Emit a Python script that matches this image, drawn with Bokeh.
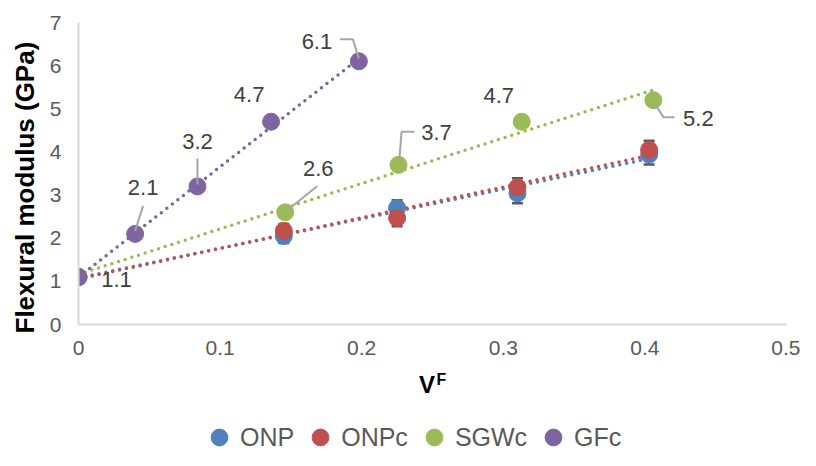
import numpy as np
from bokeh.plotting import figure
from bokeh.layouts import column
from bokeh.models import (Range1d, ColumnDataSource, Whisker, TeeHead, Label, Legend, LegendItem,
                          FixedTicker, NumeralTickFormatter, Title)
from bokeh.embed import file_html
from bokeh.resources import INLINE
from bokeh.core.properties import value

# ---------------- data ----------------
series_names = ["ONP", "ONPc", "SGWc", "GFc"]
colors = ["#4F81BD", "#C0504D", "#9BBB59", "#8064A2"]

onp_x = [0.0, 0.145, 0.225, 0.31, 0.403]
onp_y = [1.1, 2.05, 2.70, 3.04, 3.94]
onp_err = [0.0, 0.16, 0.18, 0.23, 0.23]

onpc_x = [0.0, 0.145, 0.225, 0.31, 0.403]
onpc_y = [1.1, 2.17, 2.47, 3.18, 4.05]
onpc_err = [0.0, 0.16, 0.19, 0.21, 0.21]

sgwc_x = [0.0, 0.146, 0.226, 0.313, 0.406]
sgwc_y = [1.1, 2.6, 3.7, 4.7, 5.2]
sgwc_labels = ["", "2.6", "3.7", "4.7", "5.2"]

gfc_x = [0.0, 0.040, 0.084, 0.136, 0.198]
gfc_y = [1.1, 2.1, 3.2, 4.7, 6.1]
gfc_labels = ["1.1", "2.1", "3.2", "4.7", "6.1"]

x_ticks = [0, 0.1, 0.2, 0.3, 0.4, 0.5]
y_ticks = [0, 1, 2, 3, 4, 5, 6, 7]

# ---------------- layout ----------------
W = 800
H1, H2 = 370, 80
BL, BR, BT = 77, 14, 22
BB = H1 - 324
XMAX, YMAX = 0.5, 7
FW, FH = W - BL - BR, H1 - BT - BB
PX, PY = FW / XMAX, FH / YMAX

def dx(px):
    return px / PX

def dy(px):  # px positive = downward on screen
    return -px / PY

FONT = "Liberation Sans"

p = figure(width=W, height=H1, x_range=Range1d(0, XMAX), y_range=Range1d(0, YMAX),
           output_backend="svg", toolbar_location=None,
           min_border_left=BL, min_border_right=BR, min_border_top=BT, min_border_bottom=BB)
p.outline_line_color = None
p.grid.visible = False
p.background_fill_color = "white"

for ax in (p.xaxis[0], p.yaxis[0]):
    ax.axis_line_color = "#D9D9D9"
    ax.axis_line_width = 2
    ax.major_tick_line_color = None
    ax.minor_tick_line_color = None
    ax.major_tick_out = 0
    ax.major_tick_in = 0
    ax.major_label_text_font = FONT
    ax.major_label_text_font_size = "21px"
    ax.major_label_text_color = "#595959"
p.xaxis[0].major_label_standoff = 16
p.yaxis[0].major_label_standoff = 17

p.xaxis[0].ticker = FixedTicker(ticks=x_ticks)
p.xaxis[0].formatter = NumeralTickFormatter(format="0.[0]")
p.yaxis[0].ticker = FixedTicker(ticks=y_ticks)
p.yaxis[0].formatter = NumeralTickFormatter(format="0")

p.add_layout(Title(text="Flexural modulus (GPa)", align="left", offset=-9, standoff=14,
                   text_font=FONT, text_font_style="bold", text_font_size="26px",
                   text_color="black"), "left")

# ---------------- trendlines ----------------
all_series = [(onp_x, onp_y), (onpc_x, onpc_y), (sgwc_x, sgwc_y), (gfc_x, gfc_y)]
for (xs, ys), c in zip(all_series, colors):
    k, b = np.polyfit(xs, ys, 1)
    x0, x1 = min(xs), max(xs)
    p.line([x0, x1], [k * x0 + b, k * x1 + b], line_color=c, line_width=3.5,
           line_dash="0 7", line_cap="round")

# ---------------- error bars ----------------
for xs, ys, es in [(onp_x, onp_y, onp_err), (onpc_x, onpc_y, onpc_err)]:
    src = ColumnDataSource(dict(x=xs[1:], upper=[y + e for y, e in zip(ys[1:], es[1:])],
                                lower=[y - e for y, e in zip(ys[1:], es[1:])]))
    w = Whisker(base="x", upper="upper", lower="lower", source=src,
                line_color="#595959", line_width=1.5,
                upper_head=TeeHead(size=11, line_color="#595959", line_width=2.5),
                lower_head=TeeHead(size=11, line_color="#595959", line_width=2.5))
    p.add_layout(w)

# ---------------- markers ----------------
for (xs, ys), c in zip(all_series, colors):
    p.scatter(xs, ys, size=17, fill_color=c, line_color=c, marker="circle")

# ---------------- data labels & leaders ----------------
LEAD = "#A6A6A6"
# offsets (pixels, screen: +x right, +y down) of label centres from their points
gfc_off = [(38, 2), (8, -46), (0, -45), (-22, -27), (-42, -20)]
sgwc_off = [(0, 0), (33, -44), (38, -32), (-23, -26), (45, 18)]
gfc_lead = [None, [(8, -28), (0, -3)], [(0, -28), (0, -2)], None,
            [(-19, -22), (-6, -22), (0, -3)]]
sgwc_lead = [None, [(32, -26), (2, -2)], [(16, -33), (3, -33), (1, -7)], None,
             [(1, 3), (10, 17), (21, 17)]]

lx, ly, lt = [], [], []
mxs, mys = [], []
for xs, ys, labs, offs, leads in [(gfc_x, gfc_y, gfc_labels, gfc_off, gfc_lead),
                                  (sgwc_x, sgwc_y, sgwc_labels, sgwc_off, sgwc_lead)]:
    for x, y, t, o, ld in zip(xs, ys, labs, offs, leads):
        if t:
            lx.append(x + dx(o[0]))
            ly.append(y + dy(o[1]))
            lt.append(t)
        if ld:
            mxs.append([x + dx(a) for a, _ in ld])
            mys.append([y + dy(b) for _, b in ld])

p.multi_line(mxs, mys, line_color=LEAD, line_width=2)
p.text(lx, ly, text=lt, text_font=value(FONT), text_font_size="22px", text_color="#404040",
       text_align="center", text_baseline="middle")

# ---------------- lower strip: x-axis title and legend ----------------
# its frame is aligned with the main frame (same side borders); units = pixels
p2 = figure(width=W, height=H2, x_range=Range1d(0, FW), y_range=Range1d(0, H2),
            output_backend="svg", toolbar_location=None,
            x_axis_location=None, y_axis_location=None,
            min_border_left=BL, min_border_right=BR, min_border_top=0, min_border_bottom=0)
p2.outline_line_color = None
p2.grid.visible = False

p2.add_layout(Label(x=426 - BL, y=H2 - 13.5, text="V", text_font=FONT, text_font_style="bold",
                    text_font_size="24px", text_color="black",
                    text_align="center", text_baseline="middle"))
p2.add_layout(Label(x=435.5 - BL, y=H2 - 9, text="F", text_font=FONT, text_font_style="bold",
                    text_font_size="16px", text_color="black",
                    text_align="left", text_baseline="middle"))

# hidden copies of the series only feed the legend swatches
legend_renderers = [p2.scatter(xs, ys, size=17, fill_color=c, line_color=c, marker="circle",
                               visible=False)
                    for (xs, ys), c in zip(all_series, colors)]
legend = Legend(items=[LegendItem(label=n, renderers=[r])
                       for n, r in zip(series_names, legend_renderers)],
                orientation="horizontal", location=(197 - BL, -8),
                glyph_width=42, glyph_height=42, label_standoff=0, spacing=5,
                padding=0, margin=0, border_line_color=None, background_fill_alpha=0,
                inactive_fill_alpha=0,
                label_text_font=FONT, label_text_font_size="25px", label_text_color="#595959")
p2.add_layout(legend, "center")

layout = column(p, p2, spacing=0)
open("out.html", "w").write(file_html(layout, INLINE))
